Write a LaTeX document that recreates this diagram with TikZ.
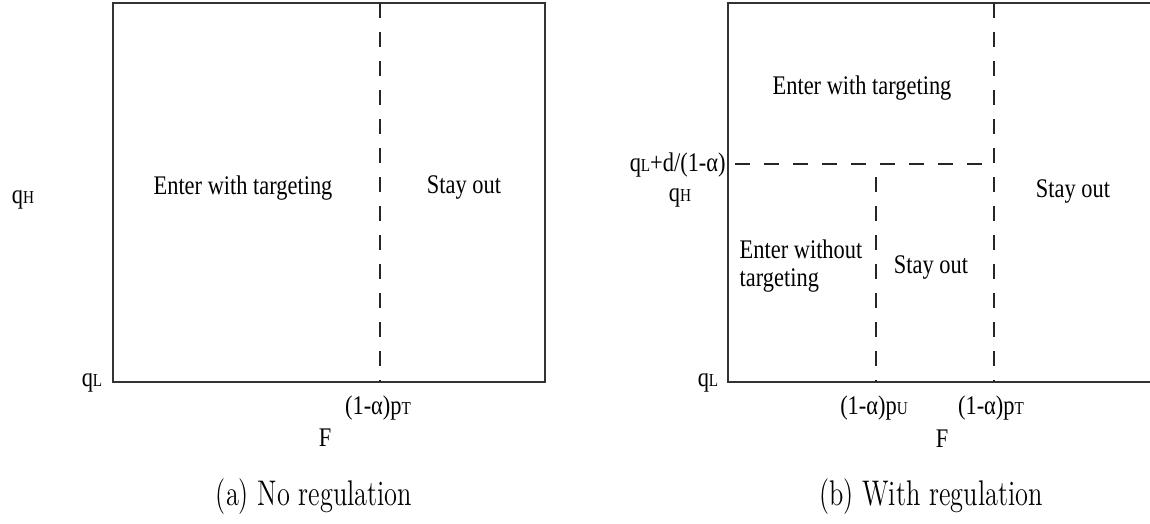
\documentclass[tikz,border=0pt]{standalone}
\usepackage{graphicx}
\usepackage{fontspec}
\setmainfont{Liberation Serif}
\newfontfamily\lmr{Latin Modern Roman}
\newcommand\lowsub[1]{{\fontsize{7.6}{8}\selectfont #1}}
\newcommand\vs[1]{\scalebox{1}[1.2]{#1}}
\newcommand\capvs[1]{\scalebox{1}[1.35]{#1}}
\begin{document}
\begin{tikzpicture}[x=0.5pt,y=-0.5pt,
  frame/.style={draw=black!80,line width=1pt},
  divider/.style={draw=black!85,line width=0.9pt,dash pattern=on 7.5pt off 7pt},
  lbl/.style={font=\fontsize{11.2}{14}\selectfont,inner sep=0pt},
  subcaption/.style={font=\lmr\fontsize{13.2}{15}\selectfont,inner sep=0pt}]
\useasboundingbox (0,0) rectangle (1150,524);
% ---------- panel (a)
\coordinate (a-tl) at (113,3);
\coordinate (a-br) at (545,382);
\draw[frame] (a-tl) rectangle (a-br);
\coordinate (a-dt) at (380,3);
\coordinate (a-db) at (380,382);
\draw[divider] (a-dt) -- (a-db);
\node[lbl] (a-enter) at (243,188) {\vs{Enter with targeting}};
\node[lbl] (a-stay) at (464,188) {\vs{Stay out}};
\node[lbl] (a-qh) at (23,200) {\vs{q\lowsub{H}}};
\node[lbl] (a-ql) at (92,383) {\vs{q\lowsub{L}}};
\node[lbl] (a-pt) at (378,408) {\vs{(1-α)p\lowsub{T}}};
\node[lbl] (a-f) at (325,438) {\vs{F}};
\node[subcaption] (a-cap) at (314,497) {\capvs{(a) No regulation}};
% ---------- panel (b)
\coordinate (b-tr) at (1150,3);
\coordinate (b-tl) at (728,3);
\coordinate (b-bl) at (728,382);
\coordinate (b-br) at (1150,382);
\draw[frame] (b-tr) -- (b-tl) -- (b-bl) -- (b-br);
\coordinate (b-dt) at (994,3);
\coordinate (b-db) at (994,382);
\draw[divider] (b-dt) -- (b-db);
\coordinate (b-hl) at (735,164);
\coordinate (b-hr) at (994,164);
\draw[divider] (b-hl) -- (b-hr);
\coordinate (b-mt) at (876,177);
\coordinate (b-mb) at (876,382);
\draw[divider] (b-mt) -- (b-mb);
\node[lbl] (b-enter) at (862,88) {\vs{Enter with targeting}};
\node[lbl] (b-stay1) at (1073,192) {\vs{Stay out}};
\node[lbl,align=left] (b-without) at (801,266) {\vs{Enter without}\\\vs{targeting}};
\node[lbl] (b-stay2) at (931,267) {\vs{Stay out}};
\node[lbl,anchor=east] (b-qd) at (726,165) {\vs{q\lowsub{L}+d/(1-α)}};
\node[lbl] (b-qh) at (680,198) {\vs{q\lowsub{H}}};
\node[lbl] (b-ql) at (708,383) {\vs{q\lowsub{L}}};
\node[lbl] (b-pu) at (874,408) {\vs{(1-α)p\lowsub{U}}};
\node[lbl] (b-pt) at (991,408) {\vs{(1-α)p\lowsub{T}}};
\node[lbl] (b-f) at (942,439) {\vs{F}};
\node[subcaption] (b-cap) at (931,497) {\capvs{(b) With regulation}};
\end{tikzpicture}
\end{document}
